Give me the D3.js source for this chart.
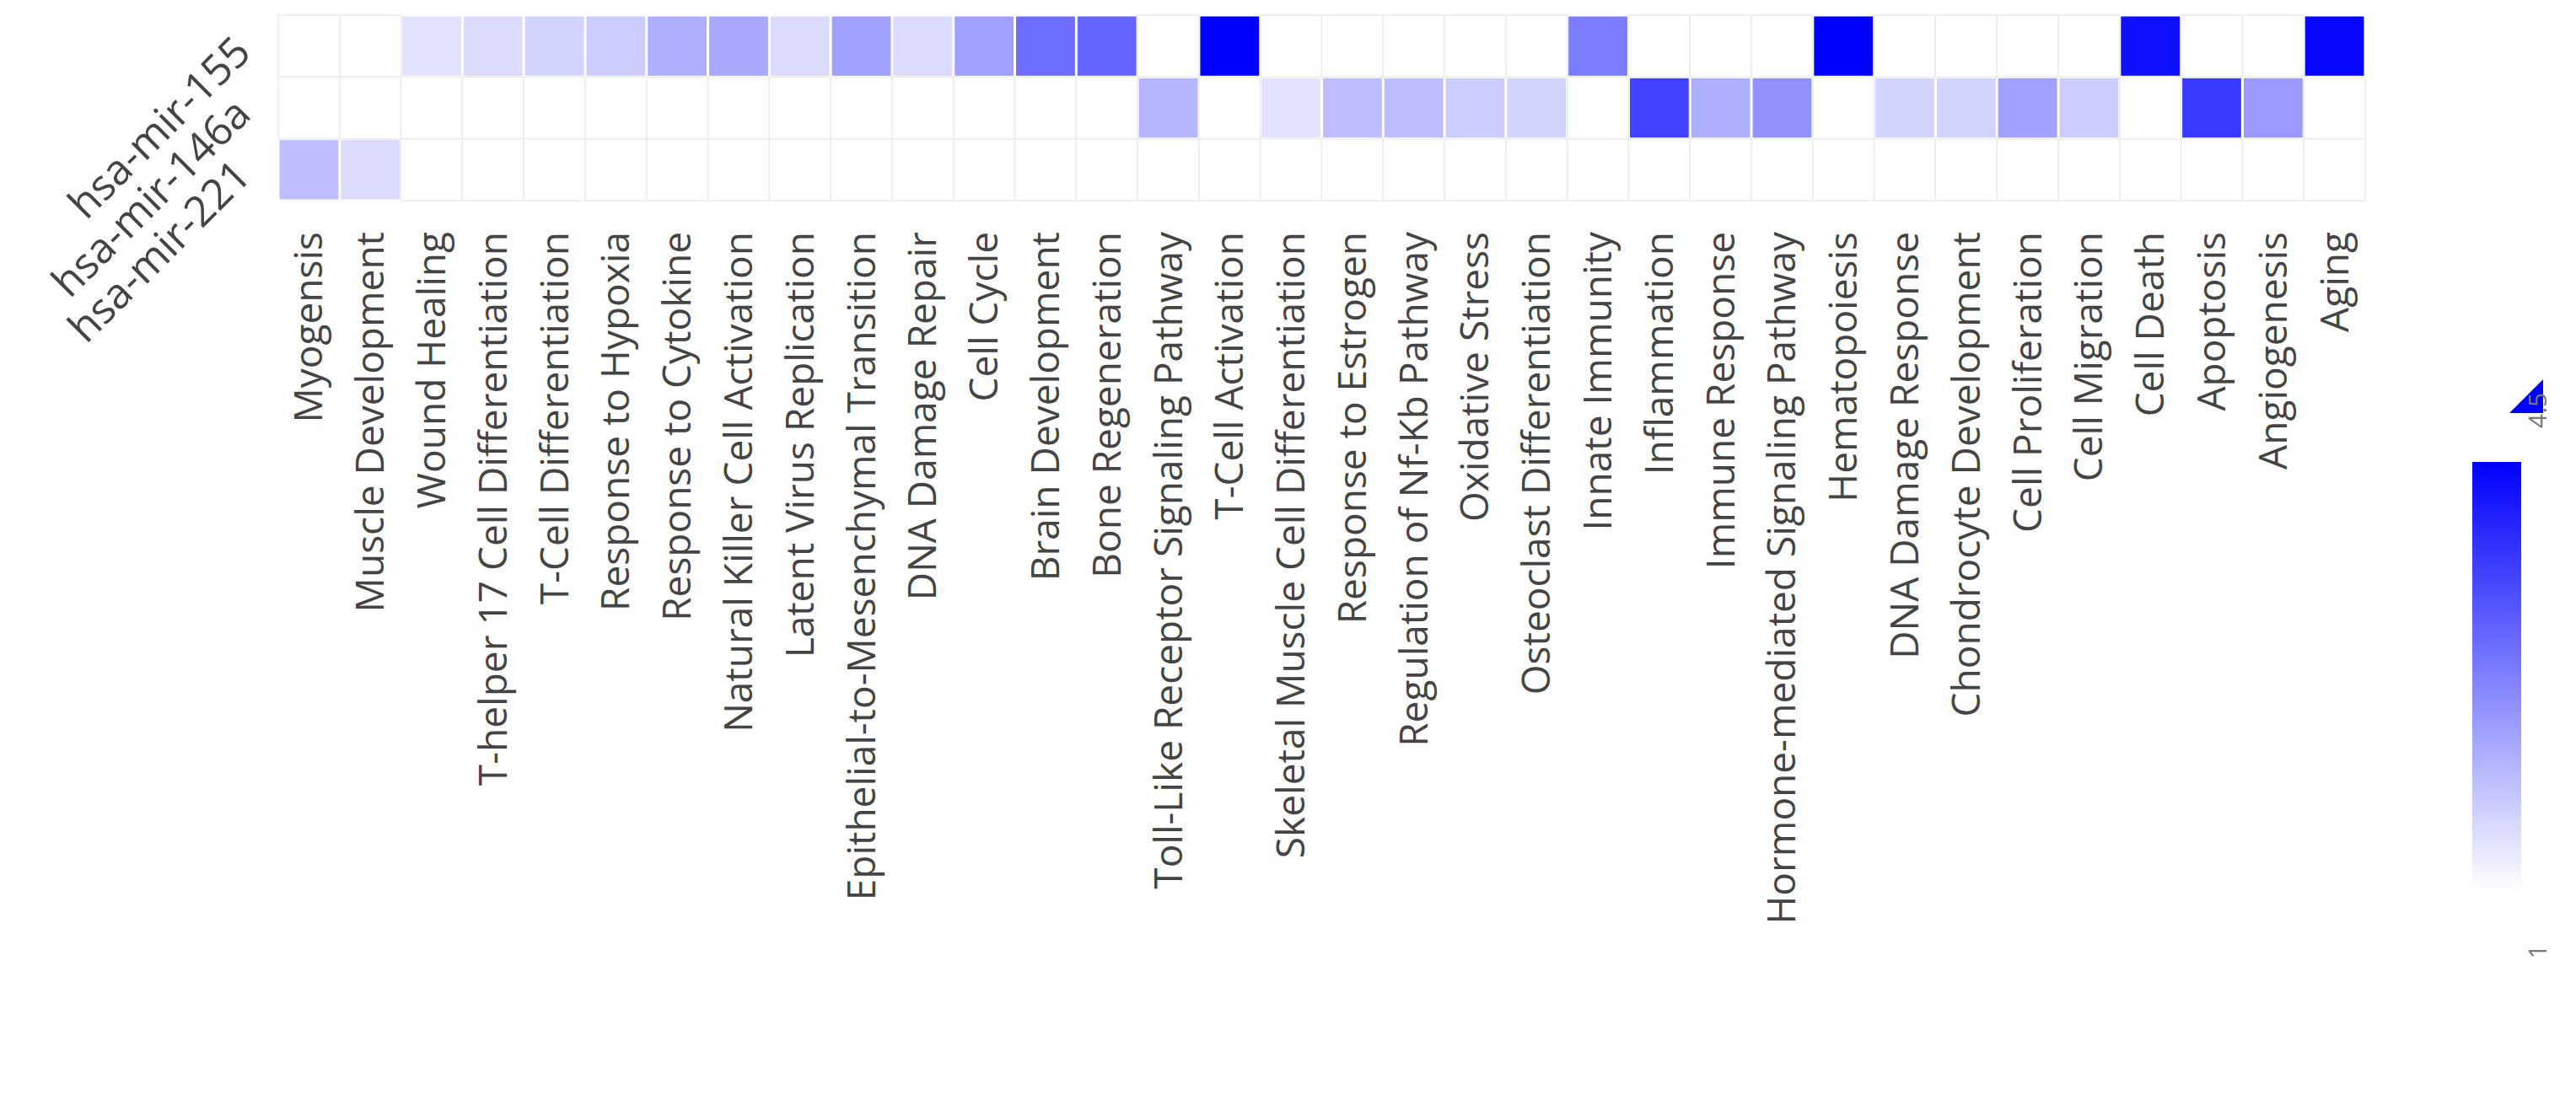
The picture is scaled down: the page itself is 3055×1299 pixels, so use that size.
<!DOCTYPE html>
<html><head><meta charset="utf-8">
<script src="https://cdn.jsdelivr.net/npm/d3@7"></script>
<style>body{margin:0;background:#fff}svg{display:block}</style>
</head><body><svg width="3055" height="1299"></svg>
<script>
const pathways = ["Myogensis","Muscle Development","Wound Healing","T-helper 17 Cell Differentiation","T-Cell Differentiation","Response to Hypoxia","Response to Cytokine","Natural Killer Cell Activation","Latent Virus Replication","Epithelial-to-Mesenchymal Transition","DNA Damage Repair","Cell Cycle","Brain Development","Bone Regeneration","Toll-Like Receptor Signaling Pathway","T-Cell Activation","Skeletal Muscle Cell Differentiation","Response to Estrogen","Regulation of Nf-Kb Pathway","Oxidative Stress","Osteoclast Differentiation","Innate Immunity","Inflammation","Immune Response","Hormone-mediated Signaling Pathway","Hematopoiesis","DNA Damage Response","Chondrocyte Development","Cell Proliferation","Cell Migration","Cell Death","Apoptosis","Angiogenesis","Aging"];
const mirnas = ["hsa-mir-155","hsa-mir-146a","hsa-mir-221"];
const n = null;
const mir155 = [n,n,1.4,1.5,1.6,1.7,2.1,2.2,1.5,2.3,1.5,2.3,3.0,3.1,n,4.5,n,n,n,n,n,2.8,n,n,n,4.5,n,n,n,n,4.3,n,n,4.4];
const mir146a = [n,n,n,n,n,n,n,n,n,n,n,n,n,n,2.0,n,1.4,1.9,1.9,1.7,1.6,n,3.6,2.1,2.5,n,1.6,1.6,2.3,1.7,n,3.7,2.4,n];
const mir221 = [1.9,1.5,n,n,n,n,n,n,n,n,n,n,n,n,n,n,n,n,n,n,n,n,n,n,n,n,n,n,n,n,n,n,n,n];
const rows = [mir155, mir146a, mir221];
const zMin = 1, zMax = 4.5;

const svg = d3.select("svg");
const font = "'Open Sans', sans-serif";
const x = d3.scaleBand().domain(pathways).range([330, 2805]);
const y = d3.scaleBand().domain(mirnas).range([18, 238]);
const color = d3.scaleLinear().domain([zMin, zMax]).range(["#ffffff", "#0000ff"]);

const cells = [];
rows.forEach((r, i) => r.forEach((v, j) => cells.push({m: mirnas[i], p: pathways[j], v})));

// empty cells: white with faint outline
svg.selectAll("rect.empty").data(cells.filter(d => d.v === null)).join("rect")
  .attr("class", "empty")
  .attr("x", d => x(d.p)).attr("y", d => y(d.m))
  .attr("width", x.bandwidth()).attr("height", y.bandwidth())
  .attr("fill", "#fff").attr("stroke", "#ececec").attr("stroke-width", 1.5);

svg.selectAll("rect.cell").data(cells.filter(d => d.v !== null)).join("rect")
  .attr("class", "cell")
  .attr("x", d => x(d.p) + 1.5).attr("y", d => y(d.m) + 1.5)
  .attr("width", x.bandwidth() - 3).attr("height", y.bandwidth() - 3)
  .attr("fill", d => color(d.v));

// x labels
svg.selectAll("text.xl").data(pathways).join("text")
  .attr("class", "xl")
  .attr("transform", d => `translate(${x(d) + x.bandwidth()/2 + 16},275) rotate(-90)`)
  .attr("text-anchor", "end")
  .attr("font-family", font).attr("font-size", 46).attr("fill", "#444")
  .text(d => d);

// y labels
svg.selectAll("text.yl").data(mirnas).join("text")
  .attr("class", "yl")
  .attr("transform", d => `translate(300,${y(d) + y.bandwidth()/2 + 10}) rotate(-45)`)
  .attr("text-anchor", "end")
  .attr("font-family", font).attr("font-size", 50).attr("fill", "#444")
  .text(d => d);

// colour bar
const cb = d3.scaleLinear().domain([zMin, zMax]).range([1057, 548]);
const defs = svg.append("defs");
const grad = defs.append("linearGradient").attr("id", "cbg")
  .attr("x1", 0).attr("y1", 1).attr("x2", 0).attr("y2", 0);
grad.append("stop").attr("offset", 0).attr("stop-color", color(zMin));
grad.append("stop").attr("offset", 1).attr("stop-color", color(zMax));
svg.append("rect").attr("x", 2932).attr("y", cb(zMax)).attr("width", 58)
  .attr("height", cb(zMin) - cb(zMax)).attr("fill", "url(#cbg)");
svg.append("path")
  .attr("d", `M2976,${cb(zMax) - 58}L3016,${cb(zMax) - 58}L3016,${cb(zMax) - 98}Z`)
  .attr("fill", "#0000ff");
[zMin, zMax].forEach(v => {
  svg.append("text")
    .attr("transform", `translate(3020,${v === zMin ? cb(v) + 72 : cb(v) - 40}) rotate(-90)`)
    .attr("text-anchor", v === zMin ? "middle" : "start")
    .attr("font-family", font).attr("font-size", 30).attr("fill", "#777")
    .text(v);
});
</script></body></html>
